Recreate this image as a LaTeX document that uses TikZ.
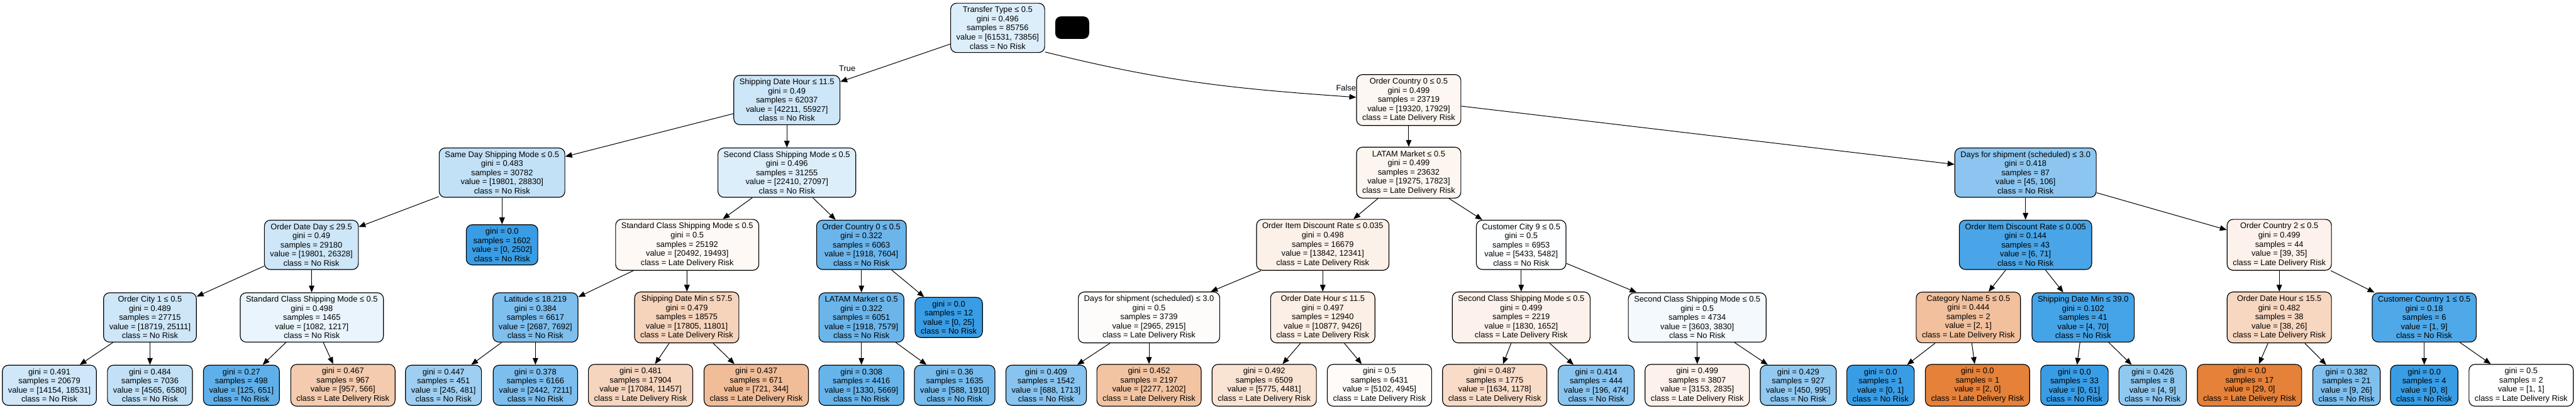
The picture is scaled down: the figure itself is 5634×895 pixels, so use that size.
\documentclass[tikz,border=0pt]{standalone}
\usepackage{fontspec}
\setmainfont{Liberation Sans}
\usepackage{tikz}
\usetikzlibrary{arrows.meta}
\definecolor{norisk}{HTML}{399DE5}
\definecolor{late}{HTML}{E58139}
\begin{document}
\begin{tikzpicture}[
        x=1pt, y=-1pt,
        treebox/.style={rectangle, rounded corners=13pt, draw=black, line width=1.6pt, align=center,
          inner xsep=12.5pt, inner ysep=7.5pt, font=\fontsize{17.7}{20}\selectfont},
        lbl/.style={font=\fontsize{17.7}{20}\selectfont, inner sep=0pt},
        link/.style={-{Triangle[length=15pt,width=12pt]}, line width=1.4pt}
      ]
        \useasboundingbox (0,0) rectangle (5634,895);

        % root and first split
        \node (root) [treebox, fill=norisk!17!white] at (2182,61) {Transfer Type ≤ 0.5\\gini = 0.496\\samples = 85756\\value = [61531, 73856]\\class = No Risk};
        \node (blk) [rectangle, rounded corners=12pt, fill=black, minimum width=74pt, minimum height=49pt] at (2345,60.5) {};

        \node (sdh) [treebox, fill=norisk!25!white] at (1721,219) {Shipping Date Hour ≤ 11.5\\gini = 0.49\\samples = 62037\\value = [42211, 55927]\\class = No Risk};
        \node (oc) [treebox, fill=late!7!white] at (3081,219) {Order Country 0 ≤ 0.5\\gini = 0.499\\samples = 23719\\value = [19320, 17929]\\class = Late Delivery Risk};

        \node (truelbl) [lbl] at (1853,150) {True};
        \node (falselbl) [lbl] at (2944,192) {False};

        % level 2
        \node (sameday) [treebox, fill=norisk!31!white] at (1098,378) {Same Day Shipping Mode ≤ 0.5\\gini = 0.483\\samples = 30782\\value = [19801, 28830]\\class = No Risk};
        \node (second) [treebox, fill=norisk!17!white] at (1721,378) {Second Class Shipping Mode ≤ 0.5\\gini = 0.496\\samples = 31255\\value = [22410, 27097]\\class = No Risk};
        \node (latam) [treebox, fill=late!8!white] at (3081,378) {LATAM Market ≤ 0.5\\gini = 0.499\\samples = 23632\\value = [19275, 17823]\\class = Late Delivery Risk};
        \node (days) [treebox, fill=norisk!58!white] at (4430,378) {Days for shipment (scheduled) ≤ 3.0\\gini = 0.418\\samples = 87\\value = [45, 106]\\class = No Risk};

        % level 3
        \node (odd) [treebox, fill=norisk!25!white] at (681,536) {Order Date Day ≤ 29.5\\gini = 0.49\\samples = 29180\\value = [19801, 26328]\\class = No Risk};
        \node (lfa) [treebox, fill=norisk] at (1098,536) {gini = 0.0\\samples = 1602\\value = [0, 2502]\\class = No Risk};
        \node (std) [treebox, fill=late!5!white] at (1503,536) {Standard Class Shipping Mode ≤ 0.5\\gini = 0.5\\samples = 25192\\value = [20492, 19493]\\class = Late Delivery Risk};
        \node (ocb) [treebox, fill=norisk!75!white] at (1884,536) {Order Country 0 ≤ 0.5\\gini = 0.322\\samples = 6063\\value = [1918, 7604]\\class = No Risk};
        \node (oida) [treebox, fill=late!11!white] at (2893,536) {Order Item Discount Rate ≤ 0.035\\gini = 0.498\\samples = 16679\\value = [13842, 12341]\\class = Late Delivery Risk};
        \node (ccity) [treebox, fill=norisk!1!white] at (3327,536) {Customer City 9 ≤ 0.5\\gini = 0.5\\samples = 6953\\value = [5433, 5482]\\class = No Risk};
        \node (oidb) [treebox, fill=norisk!92!white] at (4430,536) {Order Item Discount Rate ≤ 0.005\\gini = 0.144\\samples = 43\\value = [6, 71]\\class = No Risk};
        \node (occ) [treebox, fill=late!10!white] at (4985,536) {Order Country 2 ≤ 0.5\\gini = 0.499\\samples = 44\\value = [39, 35]\\class = Late Delivery Risk};

        % level 4
        \node (ocity) [treebox, fill=norisk!25!white] at (328,695) {Order City 1 ≤ 0.5\\gini = 0.489\\samples = 27715\\value = [18719, 25111]\\class = No Risk};
        \node (stdb) [treebox, fill=norisk!11!white] at (682,695) {Standard Class Shipping Mode ≤ 0.5\\gini = 0.498\\samples = 1465\\value = [1082, 1217]\\class = No Risk};
        \node (lat) [treebox, fill=norisk!65!white] at (1171,695) {Latitude ≤ 18.219\\gini = 0.384\\samples = 6617\\value = [2687, 7692]\\class = No Risk};
        \node (sdma) [treebox, fill=late!34!white] at (1502,695) {Shipping Date Min ≤ 57.5\\gini = 0.479\\samples = 18575\\value = [17805, 11801]\\class = Late Delivery Risk};
        \node (latamb) [treebox, fill=norisk!75!white] at (1884,695) {LATAM Market ≤ 0.5\\gini = 0.322\\samples = 6051\\value = [1918, 7579]\\class = No Risk};
        \node (lfb) [treebox, fill=norisk] at (2075,695) {gini = 0.0\\samples = 12\\value = [0, 25]\\class = No Risk};
        \node (daysb) [treebox, fill=late!2!white] at (2513,695) {Days for shipment (scheduled) ≤ 3.0\\gini = 0.5\\samples = 3739\\value = [2965, 2915]\\class = Late Delivery Risk};
        \node (odha) [treebox, fill=late!13!white] at (2893,695) {Order Date Hour ≤ 11.5\\gini = 0.497\\samples = 12940\\value = [10877, 9426]\\class = Late Delivery Risk};
        \node (scma) [treebox, fill=late!10!white] at (3327,695) {Second Class Shipping Mode ≤ 0.5\\gini = 0.499\\samples = 2219\\value = [1830, 1652]\\class = Late Delivery Risk};
        \node (scmb) [treebox, fill=norisk!6!white] at (3712,695) {Second Class Shipping Mode ≤ 0.5\\gini = 0.5\\samples = 4734\\value = [3603, 3830]\\class = No Risk};
        \node (cat) [treebox, fill=late!50!white] at (4305,695) {Category Name 5 ≤ 0.5\\gini = 0.444\\samples = 2\\value = [2, 1]\\class = Late Delivery Risk};
        \node (sdmb) [treebox, fill=norisk!94!white] at (4556,695) {Shipping Date Min ≤ 39.0\\gini = 0.102\\samples = 41\\value = [4, 70]\\class = No Risk};
        \node (odhb) [treebox, fill=late!32!white] at (4985,695) {Order Date Hour ≤ 15.5\\gini = 0.482\\samples = 38\\value = [38, 26]\\class = Late Delivery Risk};
        \node (cctry) [treebox, fill=norisk!89!white] at (5302,695) {Customer Country 1 ≤ 0.5\\gini = 0.18\\samples = 6\\value = [1, 9]\\class = No Risk};

        % leaves
        \node (l1) [treebox, fill=norisk!24!white] at (108,843.5) {gini = 0.491\\samples = 20679\\value = [14154, 18531]\\class = No Risk};
        \node (l2) [treebox, fill=norisk!31!white] at (328,843.5) {gini = 0.484\\samples = 7036\\value = [4565, 6580]\\class = No Risk};
        \node (l3) [treebox, fill=norisk!81!white] at (528,843.5) {gini = 0.27\\samples = 498\\value = [125, 651]\\class = No Risk};
        \node (l4) [treebox, fill=late!41!white] at (750,843.5) {gini = 0.467\\samples = 967\\value = [957, 566]\\class = Late Delivery Risk};
        \node (l5) [treebox, fill=norisk!49!white] at (970,843.5) {gini = 0.447\\samples = 451\\value = [245, 481]\\class = No Risk};
        \node (l6) [treebox, fill=norisk!66!white] at (1171,843.5) {gini = 0.378\\samples = 6166\\value = [2442, 7211]\\class = No Risk};
        \node (l7) [treebox, fill=late!33!white] at (1401,843.5) {gini = 0.481\\samples = 17904\\value = [17084, 11457]\\class = Late Delivery Risk};
        \node (l8) [treebox, fill=late!52!white] at (1654,843.5) {gini = 0.437\\samples = 671\\value = [721, 344]\\class = Late Delivery Risk};
        \node (l9) [treebox, fill=norisk!77!white] at (1884,843.5) {gini = 0.308\\samples = 4416\\value = [1330, 5669]\\class = No Risk};
        \node (l10) [treebox, fill=norisk!69!white] at (2088,843.5) {gini = 0.36\\samples = 1635\\value = [588, 1910]\\class = No Risk};
        \node (l11) [treebox, fill=norisk!60!white] at (2288,843.5) {gini = 0.409\\samples = 1542\\value = [688, 1713]\\class = No Risk};
        \node (l12) [treebox, fill=late!47!white] at (2513,843.5) {gini = 0.452\\samples = 2197\\value = [2277, 1202]\\class = Late Delivery Risk};
        \node (l13) [treebox, fill=late!22!white] at (2765,843.5) {gini = 0.492\\samples = 6509\\value = [5775, 4481]\\class = Late Delivery Risk};
        \node (l14) [treebox, fill=late!3!white] at (3017,843.5) {gini = 0.5\\samples = 6431\\value = [5102, 4945]\\class = Late Delivery Risk};
        \node (l15) [treebox, fill=late!28!white] at (3269,843.5) {gini = 0.487\\samples = 1775\\value = [1634, 1178]\\class = Late Delivery Risk};
        \node (l16) [treebox, fill=norisk!59!white] at (3491,843.5) {gini = 0.414\\samples = 444\\value = [196, 474]\\class = No Risk};
        \node (l17) [treebox, fill=late!10!white] at (3712,843.5) {gini = 0.499\\samples = 3807\\value = [3153, 2835]\\class = Late Delivery Risk};
        \node (l18) [treebox, fill=norisk!55!white] at (3933,843.5) {gini = 0.429\\samples = 927\\value = [450, 995]\\class = No Risk};
        \node (l19) [treebox, fill=norisk] at (4113,843.5) {gini = 0.0\\samples = 1\\value = [0, 1]\\class = No Risk};
        \node (l20) [treebox, fill=late] at (4325,843.5) {gini = 0.0\\samples = 1\\value = [2, 0]\\class = Late Delivery Risk};
        \node (l21) [treebox, fill=norisk] at (4537,843.5) {gini = 0.0\\samples = 33\\value = [0, 61]\\class = No Risk};
        \node (l22) [treebox, fill=norisk!56!white] at (4708,843.5) {gini = 0.426\\samples = 8\\value = [4, 9]\\class = No Risk};
        \node (l23) [treebox, fill=late] at (4920,843.5) {gini = 0.0\\samples = 17\\value = [29, 0]\\class = Late Delivery Risk};
        \node (l24) [treebox, fill=norisk!65!white] at (5132,843.5) {gini = 0.382\\samples = 21\\value = [9, 26]\\class = No Risk};
        \node (l25) [treebox, fill=norisk] at (5302,843.5) {gini = 0.0\\samples = 4\\value = [0, 8]\\class = No Risk};
        \node (l26) [treebox, fill=white] at (5514,843.5) {gini = 0.5\\samples = 2\\value = [1, 1]\\class = Late Delivery Risk};

        % connectors
        \draw[link] (root) -- (sdh);
        \draw[link] (root.-27) to[out=-14, in=176] (oc.177);
        \draw[link] (sdh) -- (sameday);
        \draw[link] (sdh) -- (second);
        \draw[link] (oc) -- (latam);
        \draw[link] (oc) -- (days);
        \draw[link] (sameday) -- (odd);
        \draw[link] (sameday) -- (lfa);
        \draw[link] (second) -- (std);
        \draw[link] (second) -- (ocb);
        \draw[link] (latam) -- (oida);
        \draw[link] (latam) -- (ccity);
        \draw[link] (days) -- (oidb);
        \draw[link] (days) -- (occ);
        \draw[link] (odd) -- (ocity);
        \draw[link] (odd) -- (stdb);
        \draw[link] (std) -- (lat);
        \draw[link] (std) -- (sdma);
        \draw[link] (ocb) -- (latamb);
        \draw[link] (ocb) -- (lfb);
        \draw[link] (oida) -- (daysb);
        \draw[link] (oida) -- (odha);
        \draw[link] (ccity) -- (scma);
        \draw[link] (ccity) -- (scmb);
        \draw[link] (oidb) -- (cat);
        \draw[link] (oidb) -- (sdmb);
        \draw[link] (occ) -- (odhb);
        \draw[link] (occ) -- (cctry);
        \draw[link] (ocity) -- (l1);
        \draw[link] (ocity) -- (l2);
        \draw[link] (stdb) -- (l3);
        \draw[link] (stdb) -- (l4);
        \draw[link] (lat) -- (l5);
        \draw[link] (lat) -- (l6);
        \draw[link] (sdma) -- (l7);
        \draw[link] (sdma) -- (l8);
        \draw[link] (latamb) -- (l9);
        \draw[link] (latamb) -- (l10);
        \draw[link] (daysb) -- (l11);
        \draw[link] (daysb) -- (l12);
        \draw[link] (odha) -- (l13);
        \draw[link] (odha) -- (l14);
        \draw[link] (scma) -- (l15);
        \draw[link] (scma) -- (l16);
        \draw[link] (scmb) -- (l17);
        \draw[link] (scmb) -- (l18);
        \draw[link] (cat) -- (l19);
        \draw[link] (cat) -- (l20);
        \draw[link] (sdmb) -- (l21);
        \draw[link] (sdmb) -- (l22);
        \draw[link] (odhb) -- (l23);
        \draw[link] (odhb) -- (l24);
        \draw[link] (cctry) -- (l25);
        \draw[link] (cctry) -- (l26);

      \end{tikzpicture}
\end{document}
